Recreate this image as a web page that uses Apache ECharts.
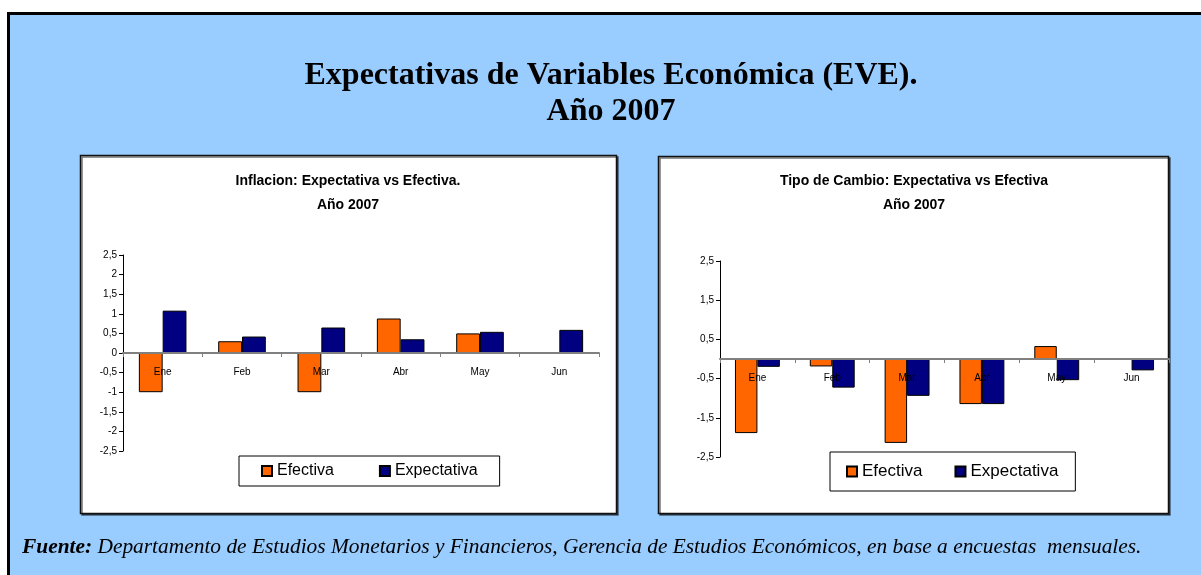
<!DOCTYPE html>
<html>
<head>
<meta charset="utf-8">
<script src="https://cdn.jsdelivr.net/npm/echarts@6/dist/echarts.min.js"></script>
<style>
html,body{margin:0;padding:0;background:#fff;}
#c{width:1201px;height:575px;}
</style>
</head>
<body>
<div id="c"></div>
<script>
const months = ['Ene','Feb','Mar','Abr','May','Jun'];
const inflEfectiva = [-1.0, 0.30, -1.0, 0.88, 0.50, null];
const inflExpectativa = [1.08, 0.42, 0.65, 0.35, 0.54, 0.59];
const tcEfectiva = [-1.89, -0.19, -2.14, -1.15, 0.33, null];
const tcExpectativa = [-0.20, -0.73, -0.94, -1.15, -0.54, -0.29];
const tcTicks = [-2.5, -1.5, -0.5, 0.5, 1.5, 2.5];

const mainTitle = 'Expectativas de Variables Económica (EVE).\nAño 2007';
const leftTitle = 'Inflacion: Expectativa vs Efectiva.\nAño 2007';
const rightTitle = 'Tipo de Cambio: Expectativa vs Efectiva\nAño 2007';
const sourceLabel = 'Fuente:';
const sourceText = ' Departamento de Estudios Monetarios y Financieros, Gerencia de Estudios Económicos, en base a encuestas  mensuales.';

const ORANGE = '#FF6600', NAVY = '#000080';
const fmt = v => String(v).replace('.', ',');

const chart = echarts.init(document.getElementById('c'));

function barSeries(name, data, color, idx) {
  return {
    type: 'bar', name, data, xAxisIndex: idx, yAxisIndex: idx,
    barGap: '0%', barCategoryGap: '40%',
    itemStyle: { color, borderColor: '#000', borderWidth: 1 },
    emphasis: { disabled: true }
  };
}

function xAxisCfg(idx, margin) {
  return {
    type: 'category', gridIndex: idx, data: months, z: 5,
    axisLine: { onZero: true, lineStyle: { color: '#808080', width: 2 } },
    axisTick: { show: true, alignWithLabel: false, length: 4, lineStyle: { color: '#808080', width: 1 } },
    axisLabel: { color: '#000', fontFamily: 'Liberation Sans, Arial', fontSize: 10, margin }
  };
}

chart.setOption({
  animation: false,
  graphic: [
    { type: 'rect', z: -10, shape: { x: 7, y: 12, width: 1200, height: 570 }, style: { fill: '#99CCFF' } },
    { type: 'line', z: -9, shape: { x1: 8.5, y1: 13.5, x2: 1201, y2: 13.5 }, style: { stroke: '#000', lineWidth: 3 } },
    { type: 'line', z: -9, shape: { x1: 8.5, y1: 12, x2: 8.5, y2: 575 }, style: { stroke: '#000', lineWidth: 3 } },
    { type: 'rect', z: -8, shape: { x: 80.5, y: 155.5, width: 536, height: 358 },
      style: { fill: '#fff', stroke: '#111', lineWidth: 1.5, shadowColor: 'rgba(0,0,0,0.55)', shadowOffsetX: 1.5, shadowOffsetY: 1.5 } },
    { type: 'rect', z: -8, shape: { x: 658.5, y: 156.5, width: 510, height: 357 },
      style: { fill: '#fff', stroke: '#111', lineWidth: 1.5, shadowColor: 'rgba(0,0,0,0.55)', shadowOffsetX: 1.5, shadowOffsetY: 1.5 } },
    { type: 'text', z: 10, left: 22, top: 537,
      style: {
        text: '{b|' + sourceLabel + '}{r|' + sourceText + '}',
        rich: {
          b: { fontFamily: 'Liberation Serif, Times New Roman', fontStyle: 'italic', fontWeight: 'bold', fontSize: 21.4, fill: '#000' },
          r: { fontFamily: 'Liberation Serif, Times New Roman', fontStyle: 'italic', fontSize: 21.4, fill: '#000' }
        }
      }
    }
  ],
  title: [
    { text: mainTitle, left: 611, top: 58, textAlign: 'center', padding: 0,
      textStyle: { fontFamily: 'Liberation Serif, Times New Roman', fontWeight: 'bold', fontSize: 32, lineHeight: 36, color: '#000' } },
    { text: leftTitle, left: 348, top: 169, textAlign: 'center', padding: 0,
      textStyle: { fontFamily: 'Liberation Sans, Arial', fontWeight: 'bold', fontSize: 14, lineHeight: 24, color: '#000' } },
    { text: rightTitle, left: 914, top: 169, textAlign: 'center', padding: 0,
      textStyle: { fontFamily: 'Liberation Sans, Arial', fontWeight: 'bold', fontSize: 14, lineHeight: 24, color: '#000' } }
  ],
  legend: [
    { left: 239, top: 456, orient: 'horizontal', data: ['Efectiva','Expectativa'],
      icon: 'rect', itemWidth: 10, itemHeight: 10, itemGap: 45,
      padding: [7, 22, 7, 22], borderColor: '#000', borderWidth: 1, backgroundColor: '#fff',
      selectedMode: false,
      textStyle: { fontFamily: 'Liberation Sans, Arial', fontSize: 16, color: '#000' } },
    { left: 830, top: 452, orient: 'horizontal', data: ['Efectiva','Expectativa'],
      icon: 'rect', itemWidth: 10, itemHeight: 10, itemGap: 32,
      padding: [11, 17, 11, 16], borderColor: '#000', borderWidth: 1, backgroundColor: '#fff',
      selectedMode: false,
      textStyle: { fontFamily: 'Liberation Sans, Arial', fontSize: 17, color: '#000' } }
  ],
  grid: [
    { left: 123, right: 602, top: 255, bottom: 124 },
    { left: 720, right: 32, top: 261, bottom: 118 }
  ],
  xAxis: [ xAxisCfg(0, -84), xAxisCfg(1, -84) ],
  yAxis: [
    { type: 'value', gridIndex: 0, min: -2.5, max: 2.5, interval: 0.5,
      splitLine: { show: false },
      axisLine: { show: true, lineStyle: { color: '#000', width: 1 } },
      axisTick: { show: true, length: 4, lineStyle: { color: '#000' } },
      axisLabel: { color: '#000', fontFamily: 'Liberation Sans, Arial', fontSize: 10, margin: 6, formatter: fmt } },
    { type: 'value', gridIndex: 1, min: -2.5, max: 2.5,
      splitLine: { show: false },
      axisLine: { show: true, lineStyle: { color: '#000', width: 1 } },
      axisTick: { show: true, length: 4, customValues: tcTicks, lineStyle: { color: '#000' } },
      axisLabel: { color: '#000', fontFamily: 'Liberation Sans, Arial', fontSize: 10, margin: 6, customValues: tcTicks, formatter: fmt } }
  ],
  series: [
    barSeries('Efectiva', inflEfectiva, ORANGE, 0),
    barSeries('Expectativa', inflExpectativa, NAVY, 0),
    barSeries('Efectiva', tcEfectiva, ORANGE, 1),
    barSeries('Expectativa', tcExpectativa, NAVY, 1)
  ]
});
</script>
</body>
</html>
